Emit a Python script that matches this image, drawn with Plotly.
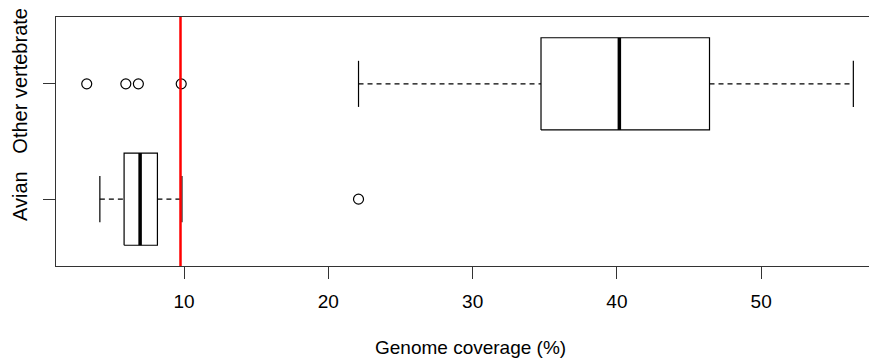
import plotly.graph_objects as go

# ---- data ----
groups = ["Avian", "Other vertebrate"]
positions = [1, 2]
lower_whisker = [4.16, 22.09]
q1 = [5.84, 34.74]
median = [6.95, 40.17]
q3 = [8.15, 46.42]
upper_whisker = [9.85, 56.39]
outliers = {
    "Avian": [22.09],
    "Other vertebrate": [3.25, 5.96, 6.83, 9.80],
}
threshold = 9.75
x_ticks = [10, 20, 30, 40, 50]
x_title = "Genome coverage (%)"

# ---- styling ----
FONT = "Liberation Sans, Arial, Helvetica, sans-serif"
BOX_HALF = 0.4
STAPLE_HALF = 0.2
LINE_W = 1.2

fig = go.Figure()

# boxes
bx, by = [], []
for p, a, b in zip(positions, q1, q3):
    bx += [a, b, b, a, a, None]
    by += [p - BOX_HALF, p - BOX_HALF, p + BOX_HALF, p + BOX_HALF, p - BOX_HALF, None]
fig.add_trace(go.Scatter(x=bx, y=by, mode="lines", fill="toself", fillcolor="white",
                         line=dict(color="black", width=LINE_W), hoverinfo="skip"))

# whiskers (dashed)
wx, wy = [], []
for p, lo, a, b, hi in zip(positions, lower_whisker, q1, q3, upper_whisker):
    wx += [lo, a, None, b, hi, None]
    wy += [p, p, None, p, p, None]
fig.add_trace(go.Scatter(x=wx, y=wy, mode="lines",
                         line=dict(color="black", width=LINE_W, dash="5px,4px"), hoverinfo="skip"))

# staples
sx, sy = [], []
for p, lo, hi in zip(positions, lower_whisker, upper_whisker):
    sx += [lo, lo, None, hi, hi, None]
    sy += [p - STAPLE_HALF, p + STAPLE_HALF, None, p - STAPLE_HALF, p + STAPLE_HALF, None]
fig.add_trace(go.Scatter(x=sx, y=sy, mode="lines",
                         line=dict(color="black", width=LINE_W), hoverinfo="skip"))

# medians
mx, my = [], []
for p, m in zip(positions, median):
    mx += [m, m, None]
    my += [p - BOX_HALF, p + BOX_HALF, None]
fig.add_trace(go.Scatter(x=mx, y=my, mode="lines",
                         line=dict(color="black", width=3.5), hoverinfo="skip"))

# outliers
ox, oy = [], []
for g, p in zip(groups, positions):
    for v in outliers[g]:
        ox.append(v)
        oy.append(p)
fig.add_trace(go.Scatter(x=ox, y=oy, mode="markers",
                         marker=dict(symbol="circle-open", size=10, color="black",
                                     line=dict(width=1.2, color="black")),
                         hoverinfo="skip"))

# threshold line
fig.add_shape(type="line", x0=threshold, x1=threshold, xref="x", y0=0, y1=1, yref="paper",
              line=dict(color="#ff0000", width=2.5), layer="above")

fig.add_annotation(text=x_title, xref="x", x=29.82, yref="paper", y=0, yshift=-81,
                   yanchor="middle", showarrow=False,
                   font=dict(family=FONT, size=19, color="black"))

# page body has an 8px margin, so the figure is sized/offset to compensate
fig.update_layout(
    width=869, height=351,
    margin=dict(l=48, r=0, t=9, b=93),
    paper_bgcolor="white", plot_bgcolor="white",
    showlegend=False,
    font=dict(family=FONT, size=19, color="black"),
    xaxis=dict(range=[1.12, 58.03], tickvals=x_ticks, ticks="outside", ticklen=12,
               tickwidth=1, tickcolor="#333", showline=True, mirror=True,
               linecolor="#333", linewidth=1.2, showgrid=False, zeroline=False,
               ticklabelstandoff=6,
               tickfont=dict(family=FONT, size=19, color="black")),
    yaxis=dict(range=[0.42, 2.58], tickvals=positions, ticktext=groups, ticks="outside",
               ticklen=12, tickwidth=1, tickcolor="#333", showline=True, mirror=False,
               linecolor="#333", linewidth=1.2, showgrid=False, zeroline=False,
               ticklabelstandoff=8,
               tickangle=-90, tickfont=dict(family=FONT, size=20, color="black")),
)

fig.write_html("out.html")
